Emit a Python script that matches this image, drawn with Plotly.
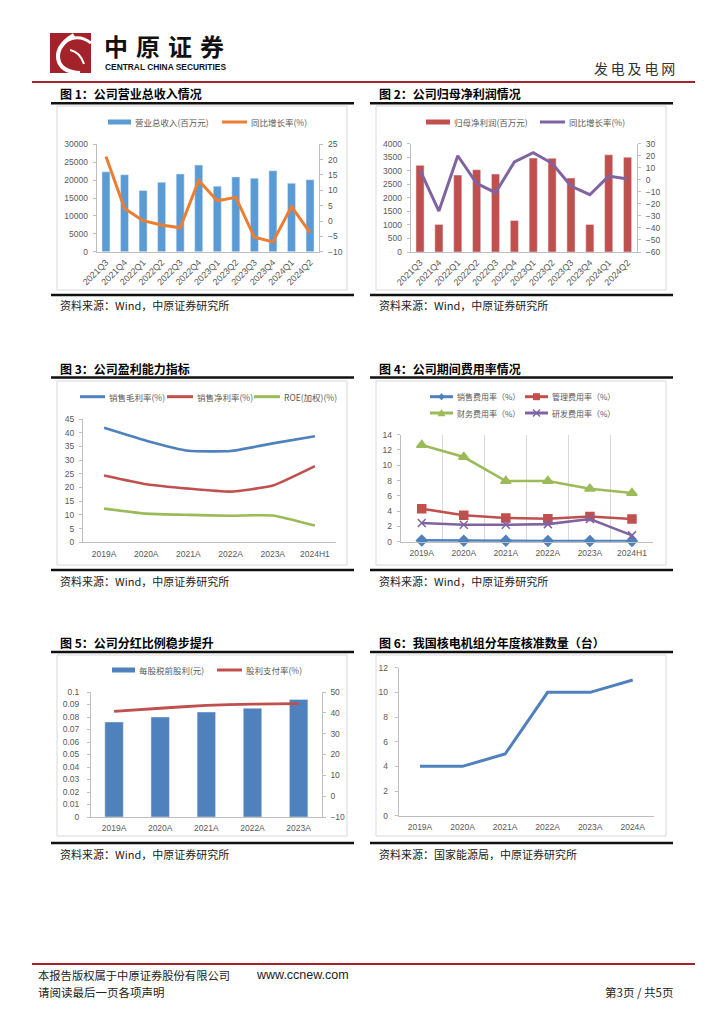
import plotly.graph_objects as go

# ------------------------------------------------------------------ data
quarters = ["2021Q3", "2021Q4", "2022Q1", "2022Q2", "2022Q3", "2022Q4",
            "2023Q1", "2023Q2", "2023Q3", "2023Q4", "2024Q1", "2024Q2"]
revenue = [22300, 21500, 17100, 19400, 21700, 24200, 18300, 20900, 20500, 22600, 19100, 20100]
revenue_yoy = [21.0, 4.1, 0.1, -1.3, -2.2, 13.2, 6.6, 7.7, -5.3, -6.8, 4.7, -3.8]
net_profit = [3200, 1020, 2840, 3040, 2880, 1160, 3470, 3460, 2730, 1020, 3590, 3500]
net_profit_yoy = [8.1, -26.0, 20.0, -3.0, -10.7, 14.8, 22.5, 13.7, -5.2, -12.4, 3.1, 0.6]

years6 = ["2019A", "2020A", "2021A", "2022A", "2023A", "2024H1"]
gross_margin = [41.8, 37.1, 33.4, 33.3, 36.1, 38.7]
net_margin = [24.4, 21.2, 19.6, 18.5, 20.7, 27.8]
roe = [12.3, 10.45, 10.0, 9.7, 9.8, 6.1]

sales_exp = [0.17, 0.12, 0.12, 0.10, 0.10, 0.10]
admin_exp = [4.32, 3.45, 3.10, 3.00, 3.30, 2.97]
fin_exp = [12.65, 11.08, 7.94, 7.94, 6.93, 6.37]
rd_exp = [2.45, 2.22, 2.22, 2.30, 2.97, 0.83]

years5 = ["2019A", "2020A", "2021A", "2022A", "2023A"]
dps = [0.076, 0.080, 0.084, 0.087, 0.094]
payout = [40.7, 42.2, 43.6, 44.2, 44.4]

years_nuc = ["2019A", "2020A", "2021A", "2022A", "2023A", "2024A"]
approvals = [4, 4, 5, 10, 10, 11]

rev_names = ["营业总收入(百万元)", "同比增长率(%)"]
np_names = ["归母净利润(百万元)", "同比增长率(%)"]
prof_names = ["销售毛利率(%)", "销售净利率(%)", "ROE(加权)(%)"]
exp_names = ["销售费用率（%）", "管理费用率（%）", "财务费用率（%）", "研发费用率（%）"]
div_names = ["每股税前股利(元)", "股利支付率(%)"]

dps_tickvals = [0, 0.01, 0.02, 0.03, 0.04, 0.05, 0.06, 0.07, 0.08, 0.09, 0.1]
dps_ticktext = ["0", "0.01", "0.02", "0.03", "0.04", "0.05", "0.06", "0.07", "0.08", "0.09", "0.1"]

titles = ["图 1：公司营业总收入情况", "图 2：公司归母净利润情况",
          "图 3：公司盈利能力指标", "图 4：公司期间费用率情况",
          "图 5：公司分红比例稳步提升", "图 6：我国核电机组分年度核准数量（台）"]
sources = ["资料来源：Wind，中原证券研究所", "资料来源：Wind，中原证券研究所",
           "资料来源：Wind，中原证券研究所", "资料来源：Wind，中原证券研究所",
           "资料来源：Wind，中原证券研究所", "资料来源：国家能源局，中原证券研究所"]

# ------------------------------------------------------------------ helpers
W, H = 724, 1024
CJK = "Noto Sans CJK SC"
NUM = "Liberation Sans, Arial, Noto Sans CJK SC"
TXT = "#595959"
AX = "#BFBFBF"

BLUE13 = "#5B9BD5"
ORANGE = "#ED7D31"
BLUE = "#4F81BD"
RED = "#C0504D"
GREEN = "#9BBB59"
PURPLE = "#8064A2"


def fx(px):
    return px / W


def fy(py):
    return 1 - py / H


shapes = []
annotations = []


def hline(x0, x1, y, color, width):
    shapes.append(dict(type="line", xref="paper", yref="paper", x0=fx(x0), x1=fx(x1),
                       y0=fy(y), y1=fy(y), line=dict(color=color, width=width), layer="above"))


def rect(x0, y0, x1, y1, line_color=None, fill=None, lw=1):
    shapes.append(dict(type="rect", xref="paper", yref="paper", x0=fx(x0), x1=fx(x1),
                       y0=fy(y1), y1=fy(y0),
                       line=dict(color=line_color or "rgba(0,0,0,0)", width=lw if line_color else 0),
                       fillcolor=fill or "rgba(0,0,0,0)", layer="below"))


def poly(points, fill=None, line_color=None, lw=1, close=True):
    s = "M " + " L ".join(f"{fx(x):.5f},{fy(y):.5f}" for x, y in points)
    if close:
        s += " Z"
    shapes.append(dict(type="path", xref="paper", yref="paper", path=s,
                       fillcolor=fill or "rgba(0,0,0,0)",
                       line=dict(color=line_color or "rgba(0,0,0,0)", width=lw if line_color else 0),
                       layer="above"))


def text(x, y, s, size=11, color="#000000", xanchor="left", family=CJK):
    annotations.append(dict(x=fx(x), y=fy(y), xref="paper", yref="paper", text=s,
                            showarrow=False, xanchor=xanchor, yanchor="middle",
                            font=dict(size=size, color=color, family=family)))


def leg_bar(x0, x1, y, color, label):
    rect(x0, y - 2.5, x1, y + 2.5, fill=color)
    text(x1 + 2, y, label, size=8.5, color=TXT)


def leg_line(x0, x1, y, color, label, lw=3, marker=None, fs=8.5):
    hline(x0, x1, y, color, lw)
    cx = (x0 + x1) / 2
    if marker == "diamond":
        r = 3.5
        poly([(cx, y - r), (cx + r, y), (cx, y + r), (cx - r, y)], fill=color)
    elif marker == "square":
        r = 3.5
        poly([(cx - r, y - r), (cx + r, y - r), (cx + r, y + r), (cx - r, y + r)], fill=color)
    elif marker == "triangle":
        r = 4
        poly([(cx, y - r), (cx + r, y + r * 0.8), (cx - r, y + r * 0.8)], fill=color)
    elif marker == "x":
        r = 3.5
        poly([(cx - r, y - r), (cx + r, y + r)], line_color=color, lw=1.5, close=False)
        poly([(cx - r, y + r), (cx + r, y - r)], line_color=color, lw=1.5, close=False)
    text(x1 + 2, y, label, size=fs, color=TXT)


def xax(l, r, anchor, n, **kw):
    d = dict(domain=[fx(l), fx(r)], anchor=anchor, type="category", range=[-0.5, n - 0.5],
             showline=True, linecolor=AX, linewidth=1, ticks="", showgrid=False, zeroline=False,
             tickfont=dict(size=8.5, color=TXT, family=NUM), fixedrange=True, automargin=False,
             ticklabelstandoff=3)
    d.update(kw)
    return d


def yax(top, bottom, rng, anchor, dtick=None, side="left", overlaying=None, **kw):
    d = dict(range=rng, anchor=anchor, side=side, showline=True, linecolor=AX, linewidth=1,
             ticks="outside", ticklen=3, tickcolor=AX, showgrid=False, zeroline=False,
             tickfont=dict(size=8.5, color=TXT, family=NUM), fixedrange=True, ticklabelstandoff=3,
             automargin=False)
    if overlaying:
        d["overlaying"] = overlaying
    else:
        d["domain"] = [fy(bottom), fy(top)]
    if dtick is not None:
        d["dtick"] = dtick
        d["tick0"] = 0
    d.update(kw)
    return d


fig = go.Figure()

# ------------------------------------------------------------------ chart 1
fig.add_trace(go.Bar(x=quarters, y=revenue, name=rev_names[0], marker_color=BLUE13, width=0.43,
                     xaxis="x", yaxis="y"))
fig.add_trace(go.Scatter(x=quarters, y=revenue_yoy, name=rev_names[1], mode="lines",
                         line=dict(color=ORANGE, width=3), xaxis="x", yaxis="y2"))
# ------------------------------------------------------------------ chart 2
fig.add_trace(go.Bar(x=quarters, y=net_profit, name=np_names[0], marker_color=RED, width=0.43,
                     xaxis="x2", yaxis="y3"))
fig.add_trace(go.Scatter(x=quarters, y=net_profit_yoy, name=np_names[1], mode="lines",
                         line=dict(color=PURPLE, width=3), xaxis="x2", yaxis="y4"))
# ------------------------------------------------------------------ chart 3
for vals, nm, col in [(gross_margin, prof_names[0], BLUE), (net_margin, prof_names[1], RED),
                      (roe, prof_names[2], GREEN)]:
    fig.add_trace(go.Scatter(x=years6, y=vals, name=nm, mode="lines",
                             line=dict(color=col, width=2.6, shape="spline", smoothing=0.45),
                             xaxis="x3", yaxis="y5"))
# ------------------------------------------------------------------ chart 4
for vals, nm, col, sym, sz in [(sales_exp, exp_names[0], BLUE, "diamond", 8),
                               (admin_exp, exp_names[1], RED, "square", 8),
                               (fin_exp, exp_names[2], GREEN, "triangle-up", 9),
                               (rd_exp, exp_names[3], PURPLE, "x-thin-open", 8)]:
    fig.add_trace(go.Scatter(x=years6, y=vals, name=nm, mode="lines+markers",
                             line=dict(color=col, width=2.6), cliponaxis=False,
                             marker=dict(symbol=sym, size=sz, color=col, line=dict(color=col, width=1.5)),
                             xaxis="x4", yaxis="y6"))
# ------------------------------------------------------------------ chart 5
fig.add_trace(go.Bar(x=years5, y=dps, name=div_names[0], marker_color=BLUE, width=0.4,
                     xaxis="x5", yaxis="y7"))
fig.add_trace(go.Scatter(x=years5, y=payout, name=div_names[1], mode="lines",
                         line=dict(color=RED, width=2.8, shape="spline", smoothing=0.5),
                         xaxis="x5", yaxis="y8"))
# ------------------------------------------------------------------ chart 6
fig.add_trace(go.Scatter(x=years_nuc, y=approvals, name="核准数量（台）", mode="lines",
                         line=dict(color=BLUE, width=3), xaxis="x6", yaxis="y9"))

layout_axes = dict(
    xaxis=xax(96.7, 319.3, "y", len(quarters), tickangle=-45, ticklabelstandoff=1,
              tickfont=dict(size=9, color=TXT, family=NUM)),
    yaxis=yax(144.3, 251.7, [0, 30000], "x", dtick=5000, tickformat="d"),
    yaxis2=yax(None, None, [-10, 25], "x", dtick=5, side="right", overlaying="y"),

    xaxis2=xax(410.6, 637, "y3", len(quarters), tickangle=-45, ticklabelstandoff=1,
               tickfont=dict(size=9, color=TXT, family=NUM)),
    yaxis3=yax(143.7, 252, [0, 4000], "x2", dtick=500, tickformat="d"),
    yaxis4=yax(None, None, [-60, 30], "x2", dtick=10, side="right", overlaying="y3"),

    xaxis3=xax(83, 336, "y5", len(years6)),
    yaxis5=yax(419, 542.3, [0, 45], "x3", dtick=5),

    xaxis4=xax(400.7, 653, "y6", len(years6), showgrid=True, gridcolor="#D9D9D9",
               tickson="boundaries"),
    yaxis6=yax(434.7, 541.7, [0, 14], "x4", dtick=2),

    xaxis5=xax(91, 321.7, "y7", len(years5)),
    yaxis7=yax(692, 817, [0, 0.1], "x5", tickvals=dps_tickvals, ticktext=dps_ticktext,
               ticklabelstandoff=6),
    yaxis8=yax(None, None, [-10, 50], "x5", dtick=10, side="right", overlaying="y7"),

    xaxis6=xax(398.7, 654, "y9", len(years_nuc)),
    yaxis9=yax(667.7, 815.7, [0, 12], "x6", dtick=2, ticklabelstandoff=5),
)

# ------------------------------------------------------------------ page header
rect(50, 33, 91, 73, fill="#A3232A")
shapes.append(dict(type="path", xref="paper", yref="paper",
                   path=(f"M {fx(74):.5f},{fy(35):.5f} Q {fx(54):.5f},{fy(47):.5f} {fx(59):.5f},{fy(62):.5f} "
                         f"Q {fx(63):.5f},{fy(72):.5f} {fx(80):.5f},{fy(73):.5f}"),
                   line=dict(color="white", width=4), layer="above"))
shapes.append(dict(type="path", xref="paper", yref="paper",
                   path=(f"M {fx(65):.5f},{fy(42):.5f} Q {fx(78):.5f},{fy(33):.5f} {fx(91):.5f},{fy(43):.5f}"),
                   line=dict(color="white", width=3), layer="above"))
shapes.append(dict(type="path", xref="paper", yref="paper",
                   path=(f"M {fx(70):.5f},{fy(50):.5f} Q {fx(80):.5f},{fy(52):.5f} {fx(84):.5f},{fy(64):.5f}"),
                   line=dict(color="white", width=2), layer="above"))
text(102, 45.5, "<b>中\u2004原\u2004证\u2004券</b>", size=24, color="#111111")
text(103, 67, "<b>CENTRAL CHINA SECURITIES</b>", size=8.4, color="#111111", family="Liberation Sans, Arial")
text(677, 67.5, "发\u2009电\u2009及\u2009电\u2009网", size=14, color="#333333", xanchor="right")
hline(32, 695, 82, "#A3232A", 2)

# ------------------------------------------------------------------ panel frames, titles, sources
panels = [
    (51, 354, 57, 347, 93, 103.3, 106, 290, 295, 305),
    (370, 673, 376, 666, 93, 103.3, 106, 290, 295, 305),
    (51, 354, 57, 347, 368, 377.5, 381, 565, 570, 581),
    (370, 673, 376, 666, 368, 377.5, 381, 565, 570, 581),
    (51, 354, 57, 347, 642.5, 652, 655, 836, 843, 854),
    (370, 673, 376, 666, 642.5, 652, 655, 836, 843, 854),
]
for i, (lx0, lx1, fx0, fx1, ty, tl, ft, fb, bl, sy) in enumerate(panels):
    text(fx0 + 1, ty, "<b>" + titles[i] + "</b>", size=12, color="#000000")
    hline(lx0, lx1, tl, "#111111", 2.5)
    rect(fx0, ft, fx1, fb, line_color="#D9D9D9", lw=1)
    hline(lx0, lx1, bl, "#111111", 2.5)
    text(fx0 + 1, sy, sources[i], size=11, color="#222222")

# ------------------------------------------------------------------ manual legends
leg_bar(108, 131, 122, BLUE13, rev_names[0])
leg_line(222, 247, 122, ORANGE, rev_names[1])

leg_bar(426, 450, 122, RED, np_names[0])
leg_line(540, 565, 122, PURPLE, np_names[1])

leg_line(80, 105, 396.7, BLUE, prof_names[0])
leg_line(167, 193, 396.7, RED, prof_names[1])
leg_line(254, 280, 396.7, GREEN, prof_names[2])

leg_line(430, 453, 396.7, BLUE, exp_names[0], marker="diamond", fs=8)
leg_line(525, 548, 396.7, RED, exp_names[1], marker="square", fs=8)
leg_line(430, 453, 413, GREEN, exp_names[2], marker="triangle", fs=8)
leg_line(525, 548, 413, PURPLE, exp_names[3], marker="x", fs=8)

leg_bar(112, 135, 670, BLUE, div_names[0])
leg_line(217, 242, 670, RED, div_names[1])

# ------------------------------------------------------------------ footer
hline(32, 695, 964, "#A3232A", 2)
text(36, 974.5, "本报告版权属于中原证券股份有限公司", size=11.3, color="#222222")
text(254, 974.5, "www.ccnew.com", size=12.5, color="#222222", family="Liberation Sans, Arial")
text(36, 992, "请阅读最后一页各项声明", size=11.5, color="#222222")
text(675, 992, "第3页 / 共5页", size=11.5, color="#222222", xanchor="right")

fig.update_layout(
    width=W, height=H,
    margin=dict(l=0, r=0, t=0, b=0, pad=0, autoexpand=False),
    paper_bgcolor="white", plot_bgcolor="rgba(0,0,0,0)",
    showlegend=False,
    font=dict(family=CJK, color=TXT),
    shapes=shapes, annotations=annotations,
    **layout_axes,
)

fig.write_html(
    "out.html",
    config={"responsive": False, "displayModeBar": False},
    post_script="document.body.style.margin='0';document.body.style.padding='0';"
                "document.documentElement.style.overflow='hidden';",
)
